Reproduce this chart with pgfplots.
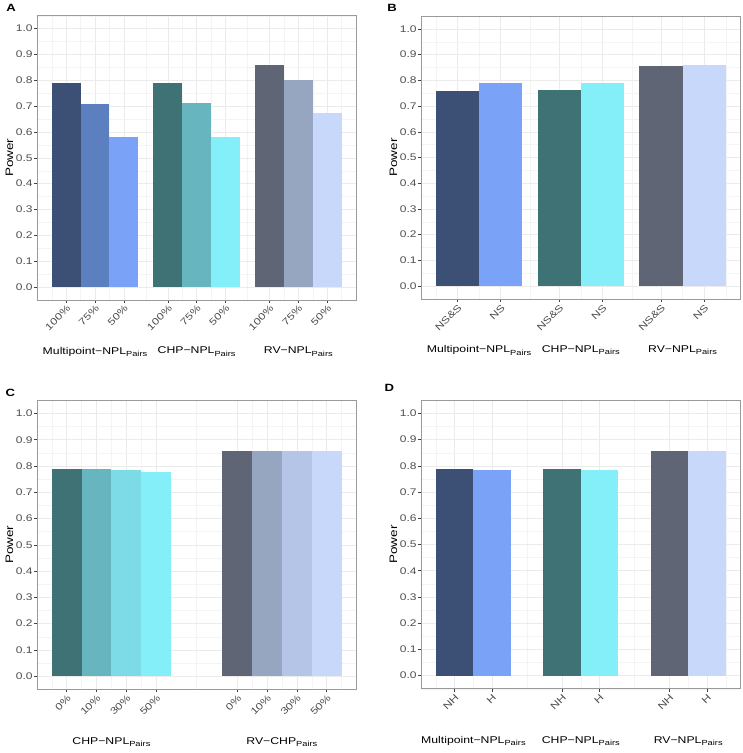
\documentclass[border=0pt]{standalone}
\usepackage{pgfplots}
\pgfplotsset{compat=1.18}
\usepackage{fontspec}
\setmainfont[FakeStretch=1.25]{Liberation Sans}

\definecolor{mpDark}{HTML}{3C5076}
\definecolor{mpMid}{HTML}{5C7FBF}
\definecolor{mpLight}{HTML}{7AA3F7}
\definecolor{chpDark}{HTML}{3E7274}
\definecolor{chpMid}{HTML}{67B5BE}
\definecolor{chpThird}{HTML}{7CDBE6}
\definecolor{chpLight}{HTML}{84EEF9}
\definecolor{rvDark}{HTML}{5F6575}
\definecolor{rvMid}{HTML}{97A6C0}
\definecolor{rvThird}{HTML}{B4C5E7}
\definecolor{rvLight}{HTML}{C7D8FA}
\definecolor{gridmajor}{HTML}{EBEBEB}
\definecolor{gridminor}{HTML}{F4F4F4}
\definecolor{framegray}{HTML}{9A9A9A}
\definecolor{tickgray}{HTML}{4D4D4D}

\newcommand{\pairs}[1]{#1\raisebox{-2.2pt}{\fontsize{7.4}{8}\selectfont Pairs}}
\newcommand{\grp}{\fontsize{9.8}{11}\selectfont}

\pgfplotsset{
  panel/.style={
    scale only axis, anchor=south west,
    ymin=-0.05, ymax=1.05,
    ytick={0,0.1,0.2,0.3,0.4,0.5,0.6,0.7,0.8,0.9,1.0},
    minor ytick={-0.05,0.05,0.15,0.25,0.35,0.45,0.55,0.65,0.75,0.85,0.95,1.05},
    /pgf/number format/assume math mode=true,
    yticklabel style={/pgf/number format/fixed, /pgf/number format/fixed zerofill, /pgf/number format/precision=1, inner sep=1.5pt},
    grid=both,
    major grid style={color=gridmajor, line width=0.5pt},
    minor grid style={color=gridminor, line width=0.35pt},
    axis line style={color=framegray, line width=0.8pt},
    tick align=outside, tick pos=left,
    major tick length=3pt, minor tick length=0pt,
    major tick style={color=black!75, line width=0.5pt},
    tick label style={font=\fontsize{9.6}{11}\selectfont, text=tickgray},
    xticklabel style={rotate=45, anchor=north east, inner sep=1pt},
    ylabel={Power},
    every axis y label/.style={at={(axis description cs:-0.087,0.5)}, rotate=90, anchor=center, font=\fontsize{10.8}{12}\selectfont},
    clip=false,
  },
  bar/.style={ybar, bar width=#1, draw=none},
}

\begin{document}
\begin{tikzpicture}
\useasboundingbox (0pt,0pt) rectangle (743pt,753pt);

% ---------------- Panel A ----------------
\begin{axis}[panel, at={(37.3pt,453pt)}, width=318.7pt, height=284.3pt,
  xmin=0.4325, xmax=3.5675,
  xtick={0.7167,1,1.2833,1.7167,2,2.2833,2.7167,3,3.2833},
  xticklabels={100\%,75\%,50\%,100\%,75\%,50\%,100\%,75\%,50\%},
  minor xtick={0.575,0.8583,1.1417,1.5,1.8583,2.1417,2.5,2.8583,3.1417,3.425}]
\addplot[bar=0.2833, fill=mpDark] coordinates {(0.7167,0.79)};
\addplot[bar=0.2833, fill=mpMid] coordinates {(1,0.71)};
\addplot[bar=0.2833, fill=mpLight] coordinates {(1.2833,0.58)};
\addplot[bar=0.2833, fill=chpDark] coordinates {(1.7167,0.79)};
\addplot[bar=0.2833, fill=chpMid] coordinates {(2,0.711)};
\addplot[bar=0.2833, fill=chpLight] coordinates {(2.2833,0.58)};
\addplot[bar=0.2833, fill=rvDark] coordinates {(2.7167,0.86)};
\addplot[bar=0.2833, fill=rvMid] coordinates {(3,0.80)};
\addplot[bar=0.2833, fill=rvLight] coordinates {(3.2833,0.672)};
\node[font=\grp] at (axis cs:1,-0.25) {\pairs{Multipoint−NPL}};
\node[font=\grp] at (axis cs:2,-0.25) {\pairs{CHP−NPL}};
\node[font=\grp] at (axis cs:3,-0.25) {\pairs{RV−NPL}};
\end{axis}

% ---------------- Panel B ----------------
\begin{axis}[panel, at={(421.3pt,454pt)}, width=319pt, height=283pt,
  xmin=0.4325, xmax=3.5675,
  xtick={0.7875,1.2125,1.7875,2.2125,2.7875,3.2125},
  xticklabels={NS\&S,NS,NS\&S,NS,NS\&S,NS},
  minor xtick={0.575,1,1.5,2,2.5,3,3.425}]
\addplot[bar=0.425, fill=mpDark] coordinates {(0.7875,0.760)};
\addplot[bar=0.425, fill=mpLight] coordinates {(1.2125,0.789)};
\addplot[bar=0.425, fill=chpDark] coordinates {(1.7875,0.762)};
\addplot[bar=0.425, fill=chpLight] coordinates {(2.2125,0.789)};
\addplot[bar=0.425, fill=rvDark] coordinates {(2.7875,0.856)};
\addplot[bar=0.425, fill=rvLight] coordinates {(3.2125,0.858)};
\node[font=\grp] at (axis cs:1,-0.25) {\pairs{Multipoint−NPL}};
\node[font=\grp] at (axis cs:2,-0.25) {\pairs{CHP−NPL}};
\node[font=\grp] at (axis cs:3,-0.25) {\pairs{RV−NPL}};
\end{axis}

% ---------------- Panel C ----------------
\begin{axis}[panel, at={(37.3pt,63.7pt)}, width=318.7pt, height=289pt,
  xmin=0.565, xmax=2.435,
  xtick={0.7375,0.9125,1.0875,1.2625,1.7375,1.9125,2.0875,2.2625},
  xticklabels={0\%,10\%,30\%,50\%,0\%,10\%,30\%,50\%},
  minor xtick={0.65,0.825,1,1.175,1.5,1.825,2,2.175,2.35}]
\addplot[bar=0.175, fill=chpDark] coordinates {(0.7375,0.789)};
\addplot[bar=0.175, fill=chpMid] coordinates {(0.9125,0.787)};
\addplot[bar=0.175, fill=chpThird] coordinates {(1.0875,0.784)};
\addplot[bar=0.175, fill=chpLight] coordinates {(1.2625,0.778)};
\addplot[bar=0.175, fill=rvDark] coordinates {(1.7375,0.857)};
\addplot[bar=0.175, fill=rvMid] coordinates {(1.9125,0.857)};
\addplot[bar=0.175, fill=rvThird] coordinates {(2.0875,0.857)};
\addplot[bar=0.175, fill=rvLight] coordinates {(2.2625,0.857)};
\node[font=\grp] at (axis cs:1,-0.25) {\pairs{CHP−NPL}};
\node[font=\grp] at (axis cs:2,-0.25) {\pairs{RV−CHP}};
\end{axis}

% ---------------- Panel D ----------------
\begin{axis}[panel, at={(421.3pt,64.3pt)}, width=319pt, height=288.4pt,
  xmin=0.515, xmax=3.485,
  xtick={0.825,1.175,1.825,2.175,2.825,3.175},
  xticklabels={NH,H,NH,H,NH,H},
  minor xtick={0.65,1,1.5,2,2.5,3,3.35}]
\addplot[bar=0.35, fill=mpDark] coordinates {(0.825,0.788)};
\addplot[bar=0.35, fill=mpLight] coordinates {(1.175,0.786)};
\addplot[bar=0.35, fill=chpDark] coordinates {(1.825,0.788)};
\addplot[bar=0.35, fill=chpLight] coordinates {(2.175,0.786)};
\addplot[bar=0.35, fill=rvDark] coordinates {(2.825,0.857)};
\addplot[bar=0.35, fill=rvLight] coordinates {(3.175,0.856)};
\node[font=\grp] at (axis cs:1,-0.25) {\pairs{Multipoint−NPL}};
\node[font=\grp] at (axis cs:2,-0.25) {\pairs{CHP−NPL}};
\node[font=\grp] at (axis cs:3,-0.25) {\pairs{RV−NPL}};
\end{axis}

% panel letters
\node[font=\bfseries\fontsize{10.5}{12}\selectfont] at (11.2pt,745.5pt) {A};
\node[font=\bfseries\fontsize{10.5}{12}\selectfont] at (392pt,745pt) {B};
\node[font=\bfseries\fontsize{10.5}{12}\selectfont] at (10.3pt,360.3pt) {C};
\node[font=\bfseries\fontsize{10.5}{12}\selectfont] at (389.3pt,365.3pt) {D};
\end{tikzpicture}
\end{document}
